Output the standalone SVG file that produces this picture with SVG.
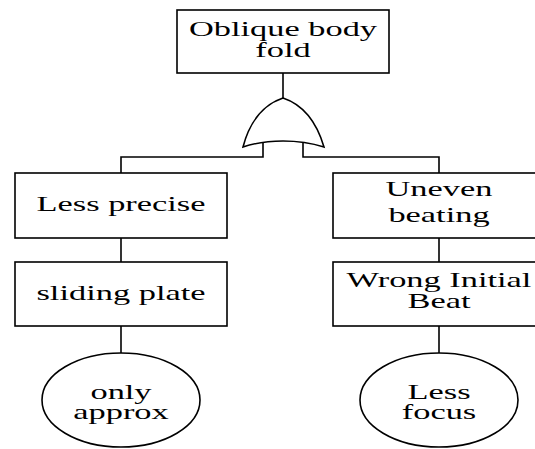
<svg xmlns="http://www.w3.org/2000/svg" width="535" height="449" viewBox="0 0 535 449">
<style>
.box{fill:#fff;stroke:#000;stroke-width:1.6}
.ln{fill:none;stroke:#000;stroke-width:1.6}
.t{font-family:"Liberation Serif","Times New Roman",serif;font-size:20px;fill:#000;text-anchor:middle}
</style>
<rect width="535" height="449" fill="#fff"/>
<g id="connectors">
<path class="ln" d="M283,73 V98"/>
<path class="ln" d="M263,142 V157 H121 V173"/>
<path class="ln" d="M303,142 V157 H439 V173"/>
<path class="ln" d="M121,238 V262"/>
<path class="ln" d="M121,326 V353"/>
<path class="ln" d="M439,238 V262"/>
<path class="ln" d="M439,326 V353"/>
</g>
<g id="top">
<rect class="box" x="177" y="10" width="212" height="63"/>
<text class="t" transform="translate(283,36) scale(1.72,1)">Oblique body</text>
<text class="t" transform="translate(283,57) scale(1.72,1)">fold</text>
</g>
<g id="orgate">
<path class="ln" d="M243,147 C250,120 265,104 283,98 C301,104 316,120 324,147 Q305,141 283,141 Q261,141 243,147 Z" fill="#fff"/>
</g>
<g id="less-precise">
<rect class="box" x="15" y="173" width="212" height="65"/>
<text class="t" transform="translate(121,211) scale(1.72,1)">Less precise</text>
</g>
<g id="sliding-plate">
<rect class="box" x="15" y="262" width="212" height="64"/>
<text class="t" transform="translate(121,300) scale(1.72,1)">sliding plate</text>
</g>
<g id="only-approx">
<ellipse class="box" cx="121" cy="400" rx="79" ry="47"/>
<text class="t" transform="translate(121,399) scale(1.72,1)">only</text>
<text class="t" transform="translate(121,419) scale(1.72,1)">approx</text>
</g>
<g id="uneven-beating">
<rect class="box" x="333" y="173" width="212" height="65"/>
<text class="t" transform="translate(439,196) scale(1.72,1)">Uneven</text>
<text class="t" transform="translate(439,222) scale(1.72,1)">beating</text>
</g>
<g id="wrong-initial-beat">
<rect class="box" x="333" y="262" width="212" height="64"/>
<text class="t" transform="translate(439,287) scale(1.72,1)">Wrong Initial</text>
<text class="t" transform="translate(439,308) scale(1.72,1)">Beat</text>
</g>
<g id="less-focus">
<ellipse class="box" cx="439" cy="400" rx="79" ry="47"/>
<text class="t" transform="translate(439,399) scale(1.72,1)">Less</text>
<text class="t" transform="translate(439,419) scale(1.72,1)">focus</text>
</g>
</svg>
